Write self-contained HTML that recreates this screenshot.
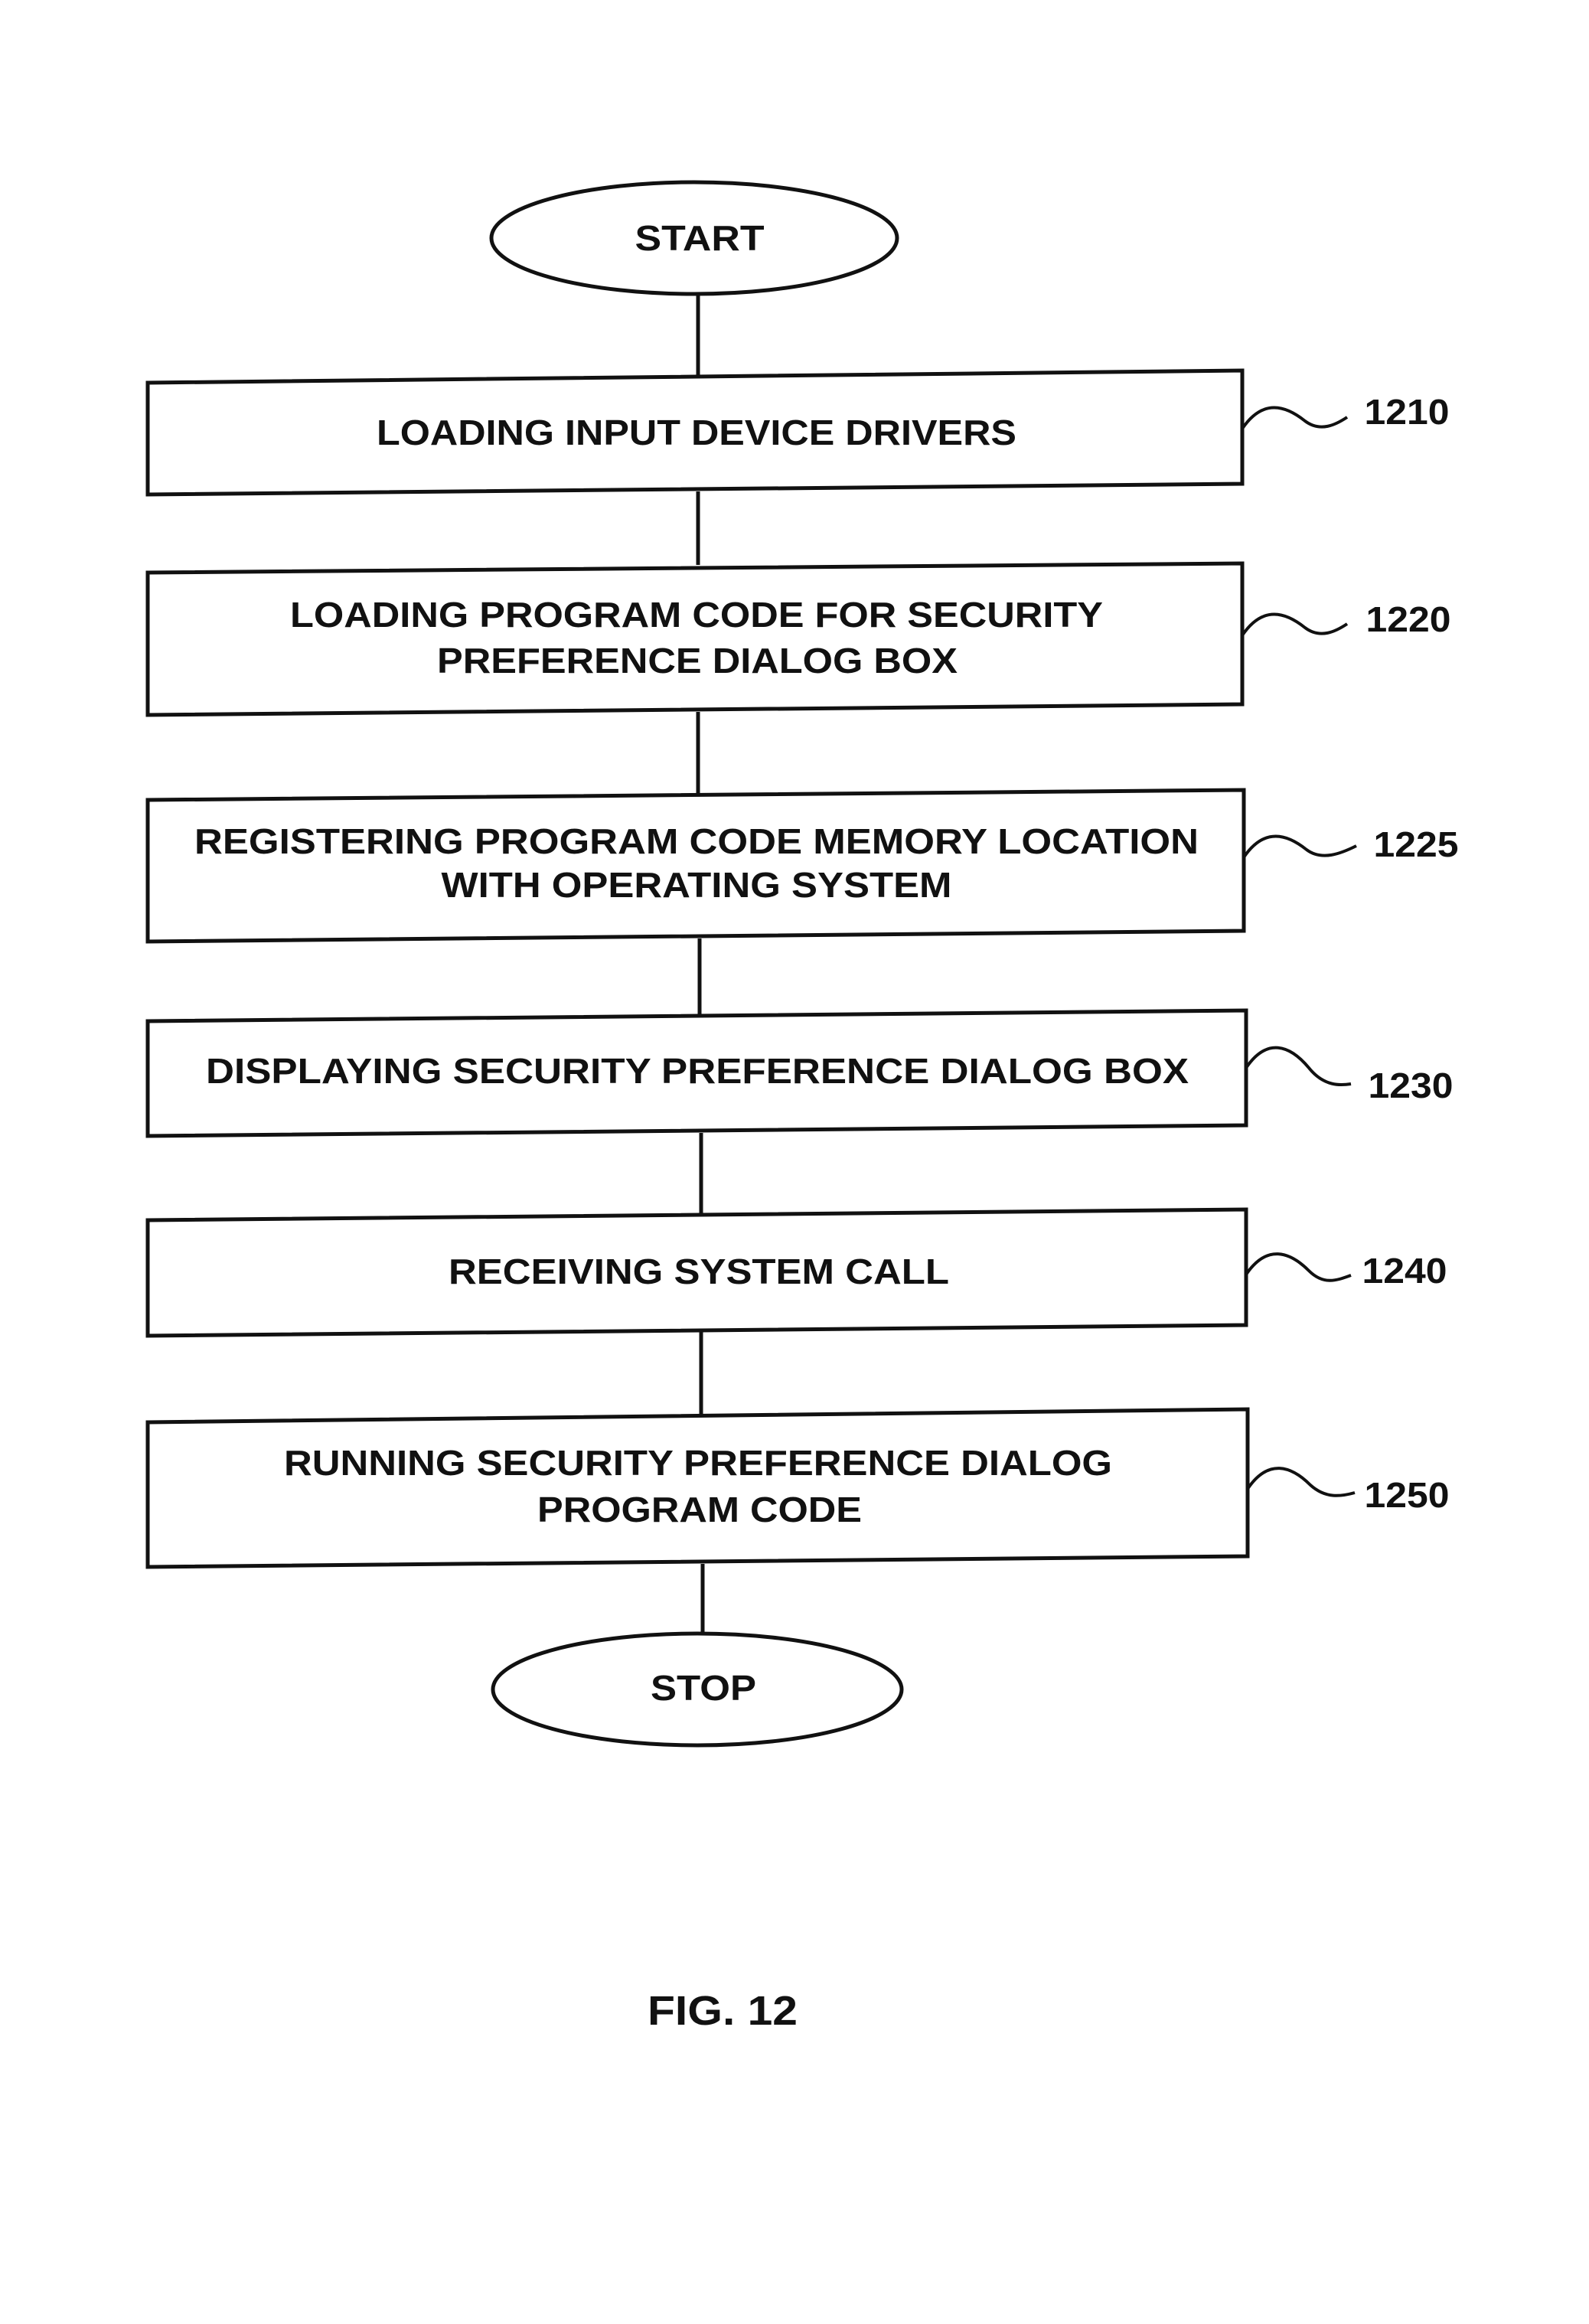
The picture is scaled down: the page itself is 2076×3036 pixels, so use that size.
<!DOCTYPE html>
<html><head><meta charset="utf-8"><style>html,body{margin:0;padding:0;background:#fff}svg{display:block}</style></head>
<body>
<svg width="2076" height="3036" viewBox="0 0 2076 3036" xmlns="http://www.w3.org/2000/svg">
<g fill="none" stroke="#111" stroke-width="5">
<ellipse cx="907" cy="311" rx="265" ry="73"/>
<line x1="912" y1="384" x2="912" y2="490"/>
<polygon points="193,500 1623,484 1623,632 193,646"/>
<line x1="912" y1="642" x2="912" y2="738"/>
<polygon points="193,748 1623,736 1623,920 193,934"/>
<line x1="912" y1="930" x2="912" y2="1040"/>
<polygon points="193,1045 1625,1032 1625,1216 193,1230"/>
<line x1="914" y1="1226" x2="914" y2="1326"/>
<polygon points="193,1334 1628,1320 1628,1470 193,1484"/>
<line x1="916" y1="1480" x2="916" y2="1586"/>
<polygon points="193,1594 1628,1580 1628,1731 193,1745"/>
<line x1="916" y1="1740" x2="916" y2="1848"/>
<polygon points="193,1858 1630,1841 1630,2033 193,2047"/>
<line x1="918" y1="2043" x2="918" y2="2136"/>
<ellipse cx="911" cy="2207" rx="267" ry="73"/>
<g stroke-width="4">
<path d="M1623,560 C1650,520 1680,530 1705,550 C1725,565 1745,555 1760,545"/>
<path d="M1623,830 C1650,790 1680,800 1705,820 C1725,835 1745,825 1760,815"/>
<path d="M1625,1120 C1652,1080 1682,1090 1707,1110 C1727,1125 1752,1115 1772,1105"/>
<path d="M1628,1395 C1655,1355 1685,1365 1710,1395 C1730,1420 1752,1418 1765,1416"/>
<path d="M1628,1665 C1655,1625 1685,1635 1710,1660 C1730,1680 1748,1672 1765,1666"/>
<path d="M1630,1945 C1657,1905 1687,1915 1712,1940 C1732,1958 1752,1955 1770,1950"/>
</g>
</g>
<g font-family="Liberation Sans, Arial, sans-serif" font-weight="bold" font-size="46" fill="#111" text-anchor="middle" dominant-baseline="central">
<text x="914" y="311" textLength="169" lengthAdjust="spacingAndGlyphs">START</text>
<text x="910" y="565" textLength="836" lengthAdjust="spacingAndGlyphs">LOADING INPUT DEVICE DRIVERS</text>
<text x="910" y="803" textLength="1062" lengthAdjust="spacingAndGlyphs">LOADING PROGRAM CODE FOR SECURITY</text>
<text x="911" y="863" textLength="680" lengthAdjust="spacingAndGlyphs">PREFERENCE DIALOG BOX</text>
<text x="910" y="1099" textLength="1312" lengthAdjust="spacingAndGlyphs">REGISTERING PROGRAM CODE MEMORY LOCATION</text>
<text x="910" y="1156" textLength="667" lengthAdjust="spacingAndGlyphs">WITH OPERATING SYSTEM</text>
<text x="911" y="1399" textLength="1284" lengthAdjust="spacingAndGlyphs">DISPLAYING SECURITY PREFERENCE DIALOG BOX</text>
<text x="913" y="1661" textLength="654" lengthAdjust="spacingAndGlyphs">RECEIVING SYSTEM CALL</text>
<text x="912" y="1911" textLength="1082" lengthAdjust="spacingAndGlyphs">RUNNING SECURITY PREFERENCE DIALOG</text>
<text x="914" y="1972" textLength="424" lengthAdjust="spacingAndGlyphs">PROGRAM CODE</text>
<text x="919" y="2205" textLength="138" lengthAdjust="spacingAndGlyphs">STOP</text>
<text x="1838" y="538" textLength="111" lengthAdjust="spacingAndGlyphs">1210</text>
<text x="1840" y="809" textLength="111" lengthAdjust="spacingAndGlyphs">1220</text>
<text x="1850" y="1103" textLength="111" lengthAdjust="spacingAndGlyphs">1225</text>
<text x="1843" y="1418" textLength="111" lengthAdjust="spacingAndGlyphs">1230</text>
<text x="1835" y="1660" textLength="111" lengthAdjust="spacingAndGlyphs">1240</text>
<text x="1838" y="1953" textLength="111" lengthAdjust="spacingAndGlyphs">1250</text>
<text x="944" y="2627" font-size="54" textLength="196" lengthAdjust="spacingAndGlyphs">FIG. 12</text>
</g>
</svg>
</body></html>
